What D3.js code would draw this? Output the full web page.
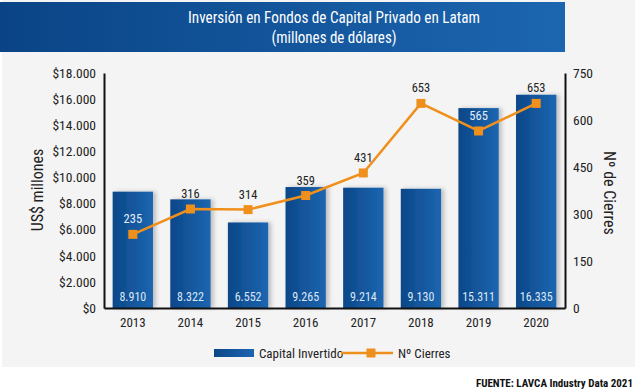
<!DOCTYPE html>
<html>
<head>
<meta charset="utf-8">
<script src="https://cdn.jsdelivr.net/npm/d3@7"></script>
<style>
  body { margin: 0; background: #fff; }
  svg text { font-family: "Roboto Condensed", "Liberation Sans Narrow", Roboto, sans-serif; }
</style>
</head>
<body>
<svg id="chart" width="638" height="392"></svg>
<script>
// data
var years = ["2013", "2014", "2015", "2016", "2017", "2018", "2019", "2020"];
var capital = [8910, 8322, 6552, 9265, 9214, 9130, 15311, 16335];
var cierres = [235, 316, 314, 359, 431, 653, 565, 653];
var leftTicks = [0, 2000, 4000, 6000, 8000, 10000, 12000, 14000, 16000, 18000];
var rightTicks = [0, 150, 300, 450, 600, 750];

var width = 638, height = 392;
var plot = { left: 104, right: 565, top: 73, bottom: 308 };

var loc = d3.formatLocale({ decimal: ",", thousands: ".", grouping: [3], currency: ["$", ""] });
var fmtMoney = loc.format("$,");
var fmtNum = loc.format(",");

var svg = d3.select("#chart");
var defs = svg.append("defs");

// gradients
var gBar = defs.append("linearGradient").attr("id", "barGrad").attr("x1", 0).attr("x2", 1);
gBar.append("stop").attr("offset", "0%").attr("stop-color", "#0c4788");
gBar.append("stop").attr("offset", "100%").attr("stop-color", "#1c66b1");

var gHead = defs.append("linearGradient").attr("id", "headGrad").attr("x1", 0).attr("x2", 1);
gHead.append("stop").attr("offset", "0%").attr("stop-color", "#0a4486");
gHead.append("stop").attr("offset", "100%").attr("stop-color", "#1c66b0");

var shadow = defs.append("filter").attr("id", "shadow")
  .attr("x", "-20%").attr("y", "-10%").attr("width", "160%").attr("height", "120%");
shadow.append("feDropShadow").attr("dx", 3).attr("dy", 0).attr("stdDeviation", 2)
  .attr("flood-color", "#000").attr("flood-opacity", 0.22);

// background panel + header band
svg.append("rect").attr("x", 2).attr("y", 0).attr("width", 633).attr("height", 367).attr("fill", "#f4f4f5");
svg.append("rect").attr("x", 0).attr("y", 2).attr("width", 565).attr("height", 50).attr("fill", "url(#headGrad)");

svg.append("text").attr("x", 334).attr("y", 23).attr("text-anchor", "middle")
  .attr("fill", "#fff").attr("font-size", 16.5)
  .attr("textLength", 292).attr("lengthAdjust", "spacingAndGlyphs")
  .text("Inversión en Fondos de Capital Privado en Latam");
svg.append("text").attr("x", 334).attr("y", 43).attr("text-anchor", "middle")
  .attr("fill", "#fff").attr("font-size", 16.5)
  .attr("textLength", 125).attr("lengthAdjust", "spacingAndGlyphs")
  .text("(millones de dólares)");

// scales
var x = d3.scaleBand().domain(years).range([plot.left, plot.right]).paddingInner(0.3).paddingOuter(0.15);
var yL = d3.scaleLinear().domain([0, 18000]).range([plot.bottom, plot.top]);
var yR = d3.scaleLinear().domain([0, 750]).range([plot.bottom, plot.top]);

// bars
svg.append("g").selectAll("rect")
  .data(years)
  .enter()
  .append("rect")
  .attr("x", function (d) { return x(d); })
  .attr("y", function (d, i) { return yL(capital[i]); })
  .attr("width", x.bandwidth())
  .attr("height", function (d, i) { return plot.bottom - yL(capital[i]); })
  .attr("fill", "url(#barGrad)")
  .attr("filter", "url(#shadow)");

// bar value labels
svg.append("g").selectAll("text")
  .data(years)
  .enter()
  .append("text")
  .attr("x", function (d) { return x(d) + x.bandwidth() / 2; })
  .attr("y", plot.bottom - 7)
  .attr("text-anchor", "middle")
  .attr("fill", "#dbe7f5")
  .attr("font-size", 12)
  .text(function (d, i) { return fmtNum(capital[i]); });

// axes
var axisL = d3.axisLeft(yL).tickValues(leftTicks).tickSize(0).tickPadding(8).tickFormat(fmtMoney);
var gL = svg.append("g").attr("transform", "translate(" + plot.left + ",0)").call(axisL);
var axisR = d3.axisRight(yR).tickValues(rightTicks).tickSize(0).tickPadding(8);
var gR = svg.append("g").attr("transform", "translate(" + plot.right + ",0)").call(axisR);
var axisB = d3.axisBottom(x).tickSize(0).tickPadding(10);
var gB = svg.append("g").attr("transform", "translate(0," + plot.bottom + ")").call(axisB);

[gL, gR, gB].forEach(function (g) {
  g.select(".domain").attr("stroke", "#111").attr("stroke-width", 2);
  g.selectAll("text").attr("fill", "#222").attr("font-size", 13.5)
    .style("font-family", '"Roboto Condensed", "Liberation Sans Narrow", Roboto, sans-serif');
});
gB.selectAll("text").attr("font-size", 13);

// axis titles
svg.append("text").attr("transform", "translate(43,190) rotate(-90)")
  .attr("text-anchor", "middle").attr("fill", "#222").attr("font-size", 16).text("US$ millones");
svg.append("text").attr("transform", "translate(604,193) rotate(90)")
  .attr("text-anchor", "middle").attr("fill", "#222").attr("font-size", 16).text("Nº de Cierres");

// line
var orange = "#f0901c";
var line = d3.line()
  .x(function (d, i) { return x(years[i]) + x.bandwidth() / 2; })
  .y(function (d) { return yR(d); });
svg.append("path").datum(cierres).attr("d", line)
  .attr("fill", "none").attr("stroke", orange).attr("stroke-width", 2.5);

svg.append("g").selectAll("rect")
  .data(cierres)
  .enter()
  .append("rect")
  .attr("x", function (d, i) { return x(years[i]) + x.bandwidth() / 2 - 4.5; })
  .attr("y", function (d) { return yR(d) - 4.5; })
  .attr("width", 9).attr("height", 9)
  .attr("fill", orange);

svg.append("g").selectAll("text")
  .data(cierres)
  .enter()
  .append("text")
  .attr("x", function (d, i) { return x(years[i]) + x.bandwidth() / 2; })
  .attr("y", function (d) { return yR(d) - 11; })
  .attr("text-anchor", "middle")
  .attr("font-size", 12.5)
  .attr("fill", function (d, i) {
    // white when the label sits inside the bar
    return (yR(d) - 22 > yL(capital[i])) ? "#e6eef8" : "#222";
  })
  .text(function (d) { return d; });

// legend
var lg = svg.append("g");
lg.append("rect").attr("x", 214).attr("y", 349).attr("width", 40).attr("height", 8).attr("fill", "url(#barGrad)");
lg.append("text").attr("x", 259).attr("y", 358).attr("fill", "#222").attr("font-size", 13).text("Capital Invertido");
lg.append("line").attr("x1", 341).attr("x2", 393).attr("y1", 353).attr("y2", 353)
  .attr("stroke", orange).attr("stroke-width", 2.5);
lg.append("rect").attr("x", 366.5).attr("y", 348.5).attr("width", 9).attr("height", 9).attr("fill", orange);
lg.append("text").attr("x", 398).attr("y", 358).attr("fill", "#222").attr("font-size", 13).text("Nº Cierres");

// source
svg.append("text").attr("x", 633).attr("y", 387).attr("text-anchor", "end")
  .attr("fill", "#111").attr("font-size", 11).attr("font-weight", "bold")
  .text("FUENTE: LAVCA Industry Data 2021");
</script>
</body>
</html>
